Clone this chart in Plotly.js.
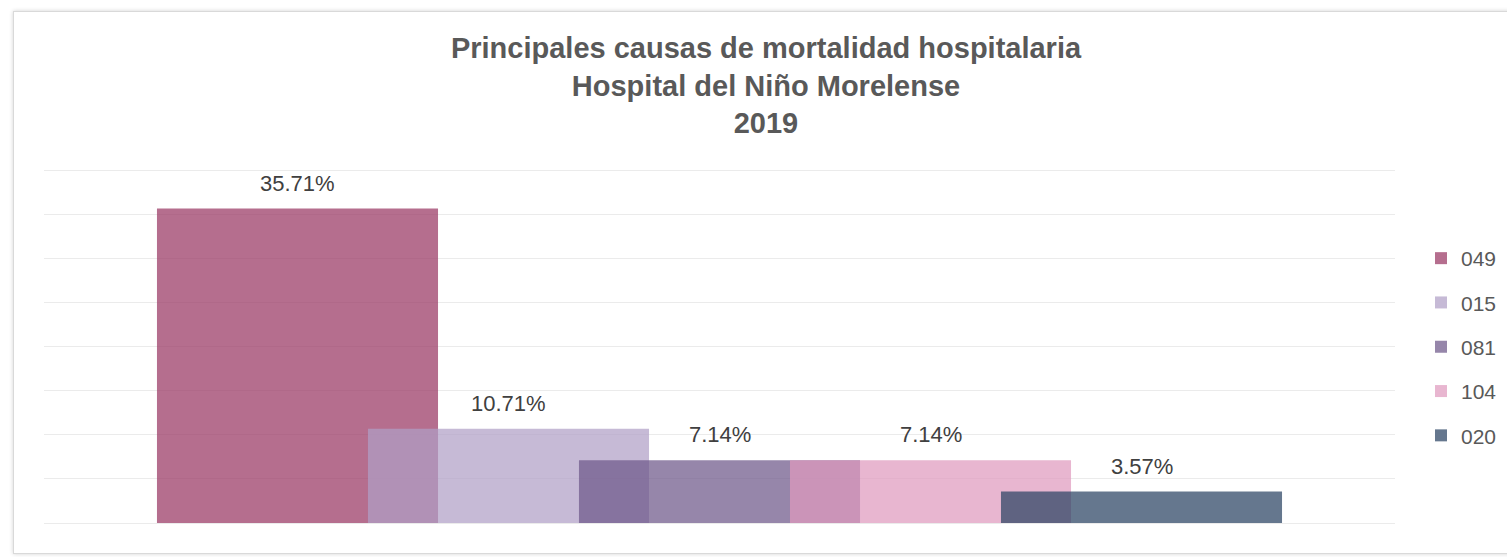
<!DOCTYPE html>
<html>
<head>
<meta charset="utf-8">
<script src="https://cdn.plot.ly/plotly-3.0.1.min.js"></script>
<style>
  html, body { margin: 0; padding: 0; background: #ffffff; }
  #wrap { position: relative; width: 1507px; height: 557px; overflow: hidden; }
  #frame { position: absolute; left: 13px; top: 11px; width: 1510px; height: 541px;
           border: 1px solid #d9d9d9; box-shadow: 0 0 4px rgba(0,0,0,0.18); background: #fff; }
  #chart { position: absolute; left: 0; top: 0; width: 1507px; height: 557px; }
</style>
</head>
<body>
<div id="wrap">
  <div id="frame"></div>
  <div id="chart"></div>
</div>
<script>
// ---- data ----
const categories = ['049', '015', '081', '104', '020'];
const values = [35.71, 10.71, 7.14, 7.14, 3.57];
const valueLabels = ['35.71%', '10.71%', '7.14%', '7.14%', '3.57%'];
const titleLines = ['Principales causas de mortalidad hospitalaria', 'Hospital del Niño Morelense', '2019'];

// ---- styles ----
const colors = ['rgba(152,54,99,0.72)', 'rgba(176,159,198,0.72)', 'rgba(109,87,137,0.72)', 'rgba(223,154,190,0.72)', 'rgba(42,67,99,0.72)'];
const barWidth = 1.332;
const labelFont = { family: '"Liberation Sans", Arial, sans-serif', size: 22, color: '#404040' };

const traces = categories.map((c, i) => ({
  type: 'bar',
  name: c,
  x: [i + 1],
  y: [values[i]],
  width: [barWidth],
  marker: { color: colors[i], line: { width: 0 } },
  legendgroup: 'g' + i,
  hoverinfo: 'name+y'
}));

const annotations = categories.map((c, i) => ({
  x: i + 1, y: values[i], xref: 'x', yref: 'y',
  text: valueLabels[i], showarrow: false,
  yanchor: 'bottom', yshift: 11,
  font: labelFont
}));

const layout = {
  width: 1507, height: 557,
  paper_bgcolor: 'rgba(0,0,0,0)',
  plot_bgcolor: 'rgba(0,0,0,0)',
  margin: { l: 44, r: 112, t: 162, b: 34, pad: 0, autoexpand: false },
  barmode: 'overlay',
  title: {
    text: titleLines.map(t => '<b>' + t + '</b>').join('<br>'),
    x: 766 / 1507, xanchor: 'center', xref: 'container',
    y: 1 - 58 / 557, yanchor: 'top', yref: 'container',
    font: { family: '"Liberation Sans", Arial, sans-serif', size: 29, color: '#595959' }
  },
  xaxis: {
    range: [3 - 3.2014, 3 + 3.2014],
    showgrid: false, zeroline: false, showticklabels: false, ticks: '', showline: false,
    fixedrange: true
  },
  yaxis: {
    range: [0, 41], dtick: 5, tick0: 0,
    showgrid: true, gridcolor: '#ebebeb', gridwidth: 1,
    zeroline: true, zerolinecolor: '#ebebeb', zerolinewidth: 1,
    showticklabels: false, ticks: '', showline: false,
    fixedrange: true
  },
  showlegend: true,
  legend: {
    x: 1421 / 1507, xanchor: 'left', xref: 'container',
    y: 1 - 347 / 557, yanchor: 'middle', yref: 'container',
    traceorder: 'grouped',
    tracegroupgap: 14,
    itemwidth: 30,
    font: { family: '"Liberation Sans", Arial, sans-serif', size: 21, color: '#595959' },
    bgcolor: 'rgba(0,0,0,0)'
  },
  annotations: annotations
};

Plotly.newPlot('chart', traces, layout, { displayModeBar: false, staticPlot: true });
</script>
</body>
</html>
